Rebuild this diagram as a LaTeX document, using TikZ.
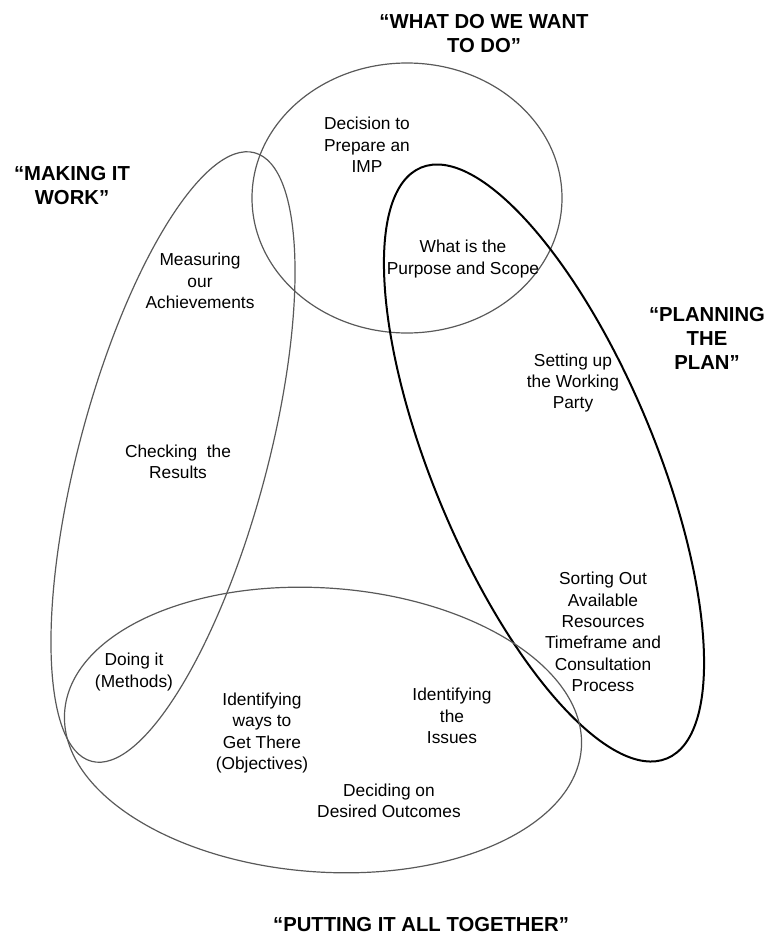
\documentclass[tikz,border=0pt]{standalone}
\usepackage{fontspec}
\setmainfont{Liberation Sans}
\usetikzlibrary{positioning}

\begin{document}
\begin{tikzpicture}[
  x=0.75pt, y=-0.75pt,
  ring/.style={draw=black!65, line width=0.9pt},
  boldring/.style={draw=black, line width=1.5pt},
  task/.style={align=center, inner sep=0pt,
               font=\fontsize{13}{16}\selectfont},
  phase/.style={align=center, inner sep=0pt,
                font=\fontsize{15.2}{18}\selectfont\bfseries}
]
\useasboundingbox (0,0) rectangle (775,939);

% the four phases
\draw[ring] (407,198) ellipse [x radius=155, y radius=135];
\draw[ring, rotate around={-15:(173,457)}] (173,457) ellipse [x radius=94, y radius=315];
\draw[boldring, rotate around={22.6:(544,463)}] (544,463) ellipse [x radius=111, y radius=320];
\draw[ring, rotate around={-4:(323,730)}] (323,730) ellipse [x radius=259, y radius=142];

\node[phase] (want) at (484,34) {``WHAT DO WE WANT\\TO DO''};
\node[phase] (work) at (72,186) {``MAKING IT\\WORK''};
\node[phase] (plan) at (707,338) {``PLANNING\\THE\\PLAN''};
\node[phase] (together) at (421,925) {``PUTTING IT ALL TOGETHER''};

\node[task] (decide) at (367,145) {Decision to\\Prepare an\\IMP};
\node[task] (scope) at (463,259) {What is the\\Purpose and Scope};
\node[task] (measure) at (200,281) {Measuring\\our\\Achievements};
\node[task] (check) at (178,462) {Checking\ \ the\\Results};
\node[task] (party) at (573,383) {Setting up\\the Working\\Party};
\node[task] (resources) at (603,632) {Sorting Out\\Available\\Resources\\Timeframe and\\Consultation\\Process};
\node[task] (doing) at (134,672) {Doing it\\(Methods)};
\node[task] (ways) at (262,733) {Identifying\\ways to\\Get There\\(Objectives)};
\node[task] (issues) at (452,716) {Identifying\\the\\Issues};
\node[task] (outcomes) at (389,801) {Deciding on\\Desired Outcomes};
\end{tikzpicture}
\end{document}
